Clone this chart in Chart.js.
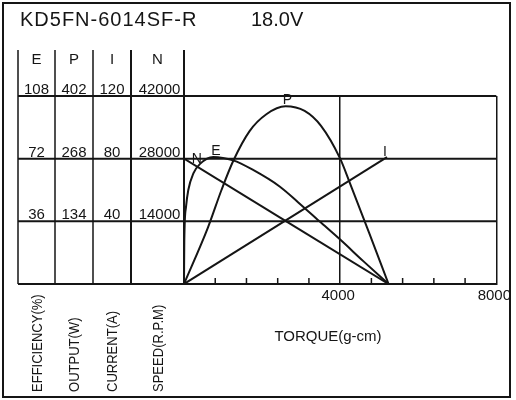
<!DOCTYPE html>
<html>
<head>
<meta charset="utf-8">
<script src="https://cdn.jsdelivr.net/npm/chart.js@4.4.1/dist/chart.umd.min.js"></script>
<style>
  html, body { margin: 0; padding: 0; background: #fff; }
  canvas { display: block; }
</style>
</head>
<body>
<canvas id="chart-motor" width="516" height="400"></canvas>
<script>
// values
var torqueE = [0, 8, 50, 110, 240, 410, 750, 1260, 1770, 2450, 2920, 3470, 4000, 4600, 5240];
var effVals = [0, 25, 44, 54, 63.5, 69, 73, 71, 65.5, 56, 47, 36, 25.5, 13, 0];

var torqueP = [0, 610, 960, 1260, 1680, 2110, 2600, 3090, 3510, 4000, 4235, 4740, 5240];
var powerVals = [0, 120, 201, 263, 327, 363, 380, 370, 338, 268, 219, 110, 0];

var torqueI = [0, 5200];
var currentVals = [0, 81];

var torqueN = [0, 5240];
var speedVals = [28000, 0];

var eTicks = [36, 72, 108];
var pTicks = [134, 268, 402];
var iTicks = [40, 80, 120];
var nTicks = [14000, 28000, 42000];
var xTickLabels = [4000, 8000];

var columnHeads = ["E", "P", "I", "N"];
var columnNames = ["EFFICIENCY(%)", "OUTPUT(W)", "CURRENT(A)", "SPEED(R.P.M)"];

var INK = "#151515";
var FONT = "'Liberation Sans', Arial, sans-serif";

function pts(xs, ys) {
    return xs.map(function(x, i) { return { x: x, y: ys[i] }; });
}

function curve(label, xs, ys, axis) {
    return {
        label: label,
        data: pts(xs, ys),
        yAxisID: axis,
        borderColor: INK,
        borderWidth: 2,
        pointRadius: 0,
        fill: false,
        cubicInterpolationMode: "monotone"
    };
}

// left table, frame, titles and curve letters
var sheetPlugin = {
    id: "sheet",
    beforeDatasetsDraw: function(chart) {
        var c = chart.ctx, a = chart.chartArea;
        var yN = chart.scales.yN, x = chart.scales.x;
        var cols = [18, 55, 93, 131, a.left];
        c.save();
        c.strokeStyle = INK;
        // rows
        c.lineWidth = 2;
        nTicks.forEach(function(v) {
            var y = yN.getPixelForValue(v);
            c.beginPath(); c.moveTo(cols[0], y); c.lineTo(a.right, y); c.stroke();
        });
        var yb = yN.getPixelForValue(0);
        c.beginPath(); c.moveTo(cols[0], yb); c.lineTo(a.left, yb); c.stroke();
        // columns
        cols.forEach(function(cx, i) {
            c.lineWidth = i >= 3 ? 2 : 1.5;
            c.beginPath(); c.moveTo(cx, 50); c.lineTo(cx, yb); c.stroke();
        });
        // small torque ticks inside the plot
        c.lineWidth = 1.5;
        x.ticks.forEach(function(t) {
            if (t.value === 0 || t.value === 4000 || t.value === 8000) return;
            var px = x.getPixelForValue(t.value);
            c.beginPath(); c.moveTo(px, yb); c.lineTo(px, yb - 6); c.stroke();
        });
        c.restore();
    },
    afterDraw: function(chart) {
        var c = chart.ctx, a = chart.chartArea, s = chart.scales;
        var cols = [18, 55, 93, 131, a.left];
        c.save();
        c.strokeStyle = INK;
        c.fillStyle = INK;
        c.lineWidth = 2;
        c.strokeRect(3, 3, 507, 394);

        c.font = "20px " + FONT;
        c.textBaseline = "alphabetic";
        c.textAlign = "left";
        c.letterSpacing = "1px";
        c.fillText("KD5FN-6014SF-R", 20, 26);
        c.letterSpacing = "0px";
        c.fillText("18.0V", 251, 26);

        c.font = "15px " + FONT;
        c.textAlign = "center";
        var mids = [];
        for (var i = 0; i < 4; i++) mids.push((cols[i] + cols[i + 1]) / 2);
        columnHeads.forEach(function(h, i) { c.fillText(h, mids[i], 63.5); });

        var tickSets = [eTicks, pTicks, iTicks, nTicks];
        nTicks.forEach(function(v, r) {
            var y = s.yN.getPixelForValue(v) - 2;
            tickSets.forEach(function(set, k) {
                c.fillText(String(set[r]), mids[k] + (k === 3 ? 2 : 0), y);
            });
        });

        c.font = "14px " + FONT;
        c.textAlign = "left";
        c.textBaseline = "middle";
        columnNames.forEach(function(n, i) {
            c.save();
            c.translate(mids[i] + 1.5, 392);
            c.rotate(-Math.PI / 2);
            c.scale(0.93, 1);
            c.fillText(n, 0, 0);
            c.restore();
        });

        c.font = "15px " + FONT;
        c.textAlign = "center";
        c.textBaseline = "middle";
        c.fillText("TORQUE(g-cm)", 328, 337);

        // curve letters
        c.font = "14px " + FONT;
        c.textBaseline = "alphabetic";
        c.fillText("P", s.x.getPixelForValue(2650), s.yP.getPixelForValue(380) - 2);
        c.fillText("N", s.x.getPixelForValue(330), s.yN.getPixelForValue(28000) + 4);
        c.fillText("E", s.x.getPixelForValue(820), s.yE.getPixelForValue(73) - 2);
        c.fillText("I", s.x.getPixelForValue(5150), s.yI.getPixelForValue(81) - 1);
        c.restore();
    }
};

var ctx = document.getElementById("chart-motor");
var motorChart = new Chart(ctx, {
    type: "line",
    data: {
        datasets: [
            curve("E", torqueE, effVals, "yE"),
            curve("P", torqueP, powerVals, "yP"),
            curve("I", torqueI, currentVals, "yI"),
            curve("N", torqueN, speedVals, "yN")
        ]
    },
    options: {
        responsive: false,
        animation: false,
        layout: { padding: { left: 184, right: 19, top: 96, bottom: 96 } },
        plugins: {
            legend: { display: false },
            tooltip: { enabled: false }
        },
        scales: {
            x: {
                type: "linear",
                min: 0,
                max: 8000,
                afterFit: function(scale) { scale.height = 20; },
                ticks: {
                    stepSize: 800,
                    autoSkip: false,
                    maxRotation: 0,
                    padding: 3,
                    labelOffset: -2,
                    color: INK,
                    font: { family: FONT, size: 15 },
                    callback: function(v) { return xTickLabels.indexOf(v) >= 0 ? String(v) : ""; }
                },
                grid: {
                    drawTicks: false,
                    lineWidth: 1.5,
                    color: function(g) {
                        return g.tick && (g.tick.value === 4000 || g.tick.value === 8000) ? INK : "rgba(0,0,0,0)";
                    }
                },
                border: { display: true, color: INK, width: 2 }
            },
            yE: { display: false, min: 0, max: eTicks[eTicks.length - 1] },
            yP: { display: false, min: 0, max: pTicks[pTicks.length - 1] },
            yI: { display: false, min: 0, max: iTicks[iTicks.length - 1] },
            yN: { display: false, min: 0, max: nTicks[nTicks.length - 1] }
        }
    },
    plugins: [sheetPlugin]
});
</script>
</body>
</html>
